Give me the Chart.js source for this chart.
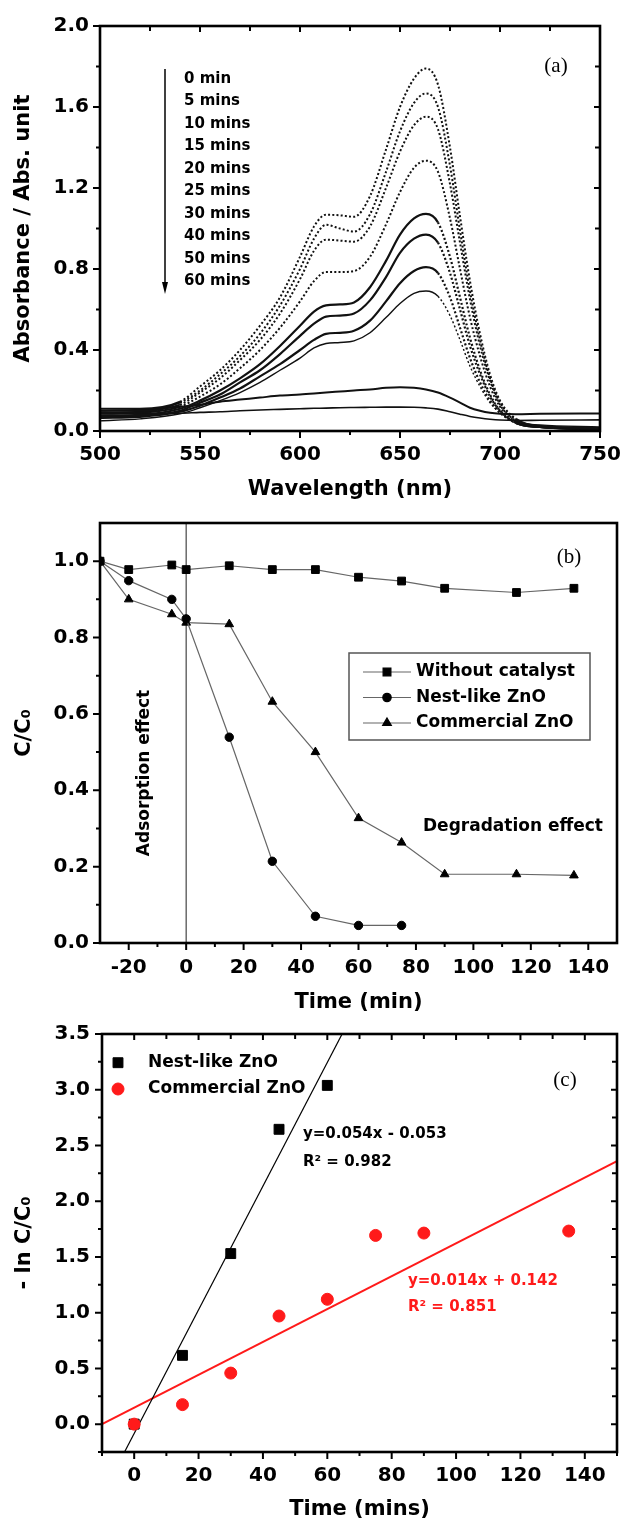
<!DOCTYPE html>
<html>
<head>
<meta charset="utf-8">
<title>ZnO photocatalysis</title>
<script src="https://cdn.jsdelivr.net/npm/chart.js@4.4.1/dist/chart.umd.min.js"></script>
<style>
  html, body { margin: 0; padding: 0; background: #fff; }
  body { position: relative; width: 620px; height: 1525px; overflow: hidden; }
  canvas { position: absolute; left: 0; }
</style>
</head>
<body>
<canvas id="chartA" width="620" height="505" style="top:0"></canvas>
<canvas id="chartB" width="620" height="530" style="top:495px"></canvas>
<canvas id="chartC" width="620" height="515" style="top:1010px"></canvas>
<script>
// (a) absorbance spectra
const wavelengths = [500, 520, 540, 550, 560, 570, 580, 590, 600, 607, 613, 620, 627, 635, 643, 650, 657, 663, 669, 675, 680, 685, 690, 695, 700, 708, 720, 750];
const timeLabels = ['0 min', '5 mins', '10 mins', '15 mins', '20 mins', '25 mins', '30 mins', '40 mins', '50 mins', '60 mins'];
const abs0  = [0.11, 0.11, 0.145, 0.22, 0.30, 0.40, 0.52, 0.66, 0.86, 1.01, 1.068, 1.065, 1.058, 1.16, 1.39, 1.60, 1.74, 1.79, 1.71, 1.40, 1.06, 0.74, 0.48, 0.28, 0.15, 0.06, 0.025, 0.015];
const abs5  = [0.10, 0.10, 0.14, 0.20, 0.28, 0.37, 0.48, 0.62, 0.80, 0.95, 1.018, 1.0, 0.985, 1.07, 1.28, 1.48, 1.62, 1.667, 1.60, 1.31, 0.99, 0.69, 0.45, 0.26, 0.14, 0.055, 0.025, 0.015];
const abs10 = [0.09, 0.095, 0.13, 0.19, 0.26, 0.35, 0.45, 0.58, 0.75, 0.89, 0.945, 0.94, 0.935, 1.01, 1.20, 1.38, 1.51, 1.552, 1.49, 1.22, 0.93, 0.65, 0.42, 0.25, 0.13, 0.05, 0.02, 0.01];
const abs15 = [0.085, 0.09, 0.12, 0.17, 0.23, 0.31, 0.40, 0.51, 0.64, 0.74, 0.785, 0.785, 0.79, 0.86, 1.02, 1.18, 1.30, 1.335, 1.28, 1.05, 0.80, 0.56, 0.37, 0.22, 0.12, 0.045, 0.02, 0.01];
const abs20 = [0.075, 0.08, 0.11, 0.15, 0.20, 0.26, 0.33, 0.42, 0.52, 0.59, 0.62, 0.625, 0.635, 0.71, 0.84, 0.97, 1.05, 1.072, 1.03, 0.86, 0.66, 0.46, 0.30, 0.18, 0.10, 0.04, 0.02, 0.01];
const abs25 = [0.07, 0.075, 0.10, 0.14, 0.18, 0.24, 0.30, 0.38, 0.47, 0.53, 0.565, 0.57, 0.58, 0.645, 0.76, 0.88, 0.95, 0.97, 0.93, 0.78, 0.60, 0.42, 0.28, 0.17, 0.10, 0.04, 0.02, 0.01];
const abs30 = [0.065, 0.07, 0.095, 0.125, 0.165, 0.21, 0.27, 0.33, 0.40, 0.45, 0.48, 0.485, 0.495, 0.545, 0.64, 0.73, 0.79, 0.809, 0.78, 0.66, 0.51, 0.36, 0.24, 0.15, 0.09, 0.04, 0.02, 0.01];
const abs40 = [0.05, 0.06, 0.085, 0.115, 0.15, 0.19, 0.24, 0.30, 0.36, 0.41, 0.432, 0.437, 0.445, 0.485, 0.56, 0.63, 0.68, 0.691, 0.665, 0.57, 0.45, 0.32, 0.22, 0.14, 0.09, 0.045, 0.03, 0.02];
const abs50 = [0.10, 0.105, 0.12, 0.13, 0.145, 0.155, 0.165, 0.175, 0.18, 0.185, 0.19, 0.195, 0.20, 0.205, 0.213, 0.216, 0.213, 0.205, 0.19, 0.165, 0.14, 0.115, 0.10, 0.09, 0.085, 0.083, 0.085, 0.087];
const abs60 = [0.085, 0.085, 0.088, 0.092, 0.095, 0.10, 0.104, 0.107, 0.11, 0.112, 0.113, 0.115, 0.116, 0.117, 0.118, 0.118, 0.117, 0.114, 0.108, 0.095, 0.083, 0.072, 0.064, 0.058, 0.054, 0.052, 0.053, 0.055];
const spectra = [abs0, abs5, abs10, abs15, abs20, abs25, abs30, abs40, abs50, abs60];
const aXTicks = [500, 550, 600, 650, 700, 750];
const aXMinor = [525, 575, 625, 675, 725];
const aYTicks = [0.0, 0.4, 0.8, 1.2, 1.6, 2.0];
const aYMinor = [0.2, 0.6, 1.0, 1.4, 1.8];

// (b) C/C0 vs time
const timeB = [-30, -20, -5, 0, 15, 30, 45, 60, 75, 90, 115, 135];
const withoutCatalyst = [1.0, 0.978, 0.99, 0.978, 0.988, 0.978, 0.978, 0.958, 0.948, 0.929, 0.918, 0.929];
const nestLikeB = [1.0, 0.949, 0.90, 0.849, 0.539, 0.214, 0.07, 0.046, 0.046];
const commercialB = [1.0, 0.90, 0.861, 0.839, 0.835, 0.632, 0.50, 0.327, 0.263, 0.18, 0.18, 0.177];
const bXTicks = [-20, 0, 20, 40, 60, 80, 100, 120, 140];
const bXMinor = [-10, 10, 30, 50, 70, 90, 110, 130];
const bYTicks = [0.0, 0.2, 0.4, 0.6, 0.8, 1.0];
const bYMinor = [0.1, 0.3, 0.5, 0.7, 0.9];

// (c) -ln C/C0 vs time
const timeNest = [0, 15, 30, 45, 60];
const lnNest = [0.0, 0.617, 1.53, 2.645, 3.039];
const timeComm = [0, 15, 30, 45, 60, 75, 90, 135];
const lnComm = [0.0, 0.175, 0.458, 0.97, 1.12, 1.693, 1.714, 1.732];
const fitNestX = [-3.0, 64.6];
const fitNestY = [-0.25, 3.5];
const fitCommX = [-10, 150];
const fitCommY = [0.0, 2.36];
const cXTicks = [0, 20, 40, 60, 80, 100, 120, 140];
const cXMinor = [-10, 10, 30, 50, 70, 90, 110, 130, 150];
const cYTicks = [0.0, 0.5, 1.0, 1.5, 2.0, 2.5, 3.0, 3.5];
const cYMinor = [-0.25, 0.25, 0.75, 1.25, 1.75, 2.25, 2.75, 3.25];

Chart.defaults.font.family = '"DejaVu Sans", sans-serif';
Chart.defaults.color = '#000';
Chart.defaults.animation = false;

const tickFont = { size: 20, weight: 'bold' };
const titleFont = { size: 21, weight: 'bold' };
const pts = (xs, ys) => ys.map((v, i) => ({ x: xs[i], y: v }));

// box + tick marks (outward on left/bottom, inward on top/right when mirrored)
const framePlugin = {
  id: 'frame',
  afterDatasetsDraw(chart, args, o) {
    const { ctx, chartArea: a } = chart;
    const sx = chart.scales.x, sy = chart.scales.y;
    ctx.save();
    ctx.strokeStyle = '#000';
    ctx.lineWidth = 2;
    ctx.beginPath();
    const xt = (vals, len, inLen) => vals.forEach(v => {
      const p = sx.getPixelForValue(v);
      ctx.moveTo(p, a.bottom); ctx.lineTo(p, a.bottom + len);
      if (o.mirror) { ctx.moveTo(p, a.top); ctx.lineTo(p, a.top + inLen); }
    });
    const yt = (vals, len, inLen) => vals.forEach(v => {
      const p = sy.getPixelForValue(v);
      ctx.moveTo(a.left, p); ctx.lineTo(a.left - len, p);
      if (o.mirror) { ctx.moveTo(a.right, p); ctx.lineTo(a.right - inLen, p); }
    });
    xt(o.xMajor, 7, 6); xt(o.xMinor, 4, 5);
    yt(o.yMajor, 7, 6); yt(o.yMinor, 4, 5);
    ctx.stroke();
    ctx.lineWidth = 2.6;
    ctx.strokeRect(a.left, a.top, a.right - a.left, a.bottom - a.top);
    ctx.restore();
  }
};

function axes(xr, yr, xTicks, yTicks, xTitle, yTitle, xH, yW, xPad, yPad, xTitlePad, yTitlePad) {
  return {
    x: {
      type: 'linear', min: xr[0], max: xr[1],
      afterBuildTicks: s => { s.ticks = xTicks.map(v => ({ value: v })); },
      afterFit: s => { s.height = xH; s.paddingLeft = 0; s.paddingRight = 0; },
      grid: { display: false, drawTicks: false }, border: { display: false },
      ticks: { font: tickFont, color: '#000', padding: xPad, maxRotation: 0, autoSkip: false },
      title: { display: true, text: xTitle, font: titleFont, color: '#000', padding: { top: 0, bottom: xTitlePad } }
    },
    y: {
      type: 'linear', min: yr[0], max: yr[1],
      afterBuildTicks: s => { s.ticks = yTicks.map(v => ({ value: v })); },
      afterFit: s => { s.width = yW; s.paddingTop = 0; s.paddingBottom = 0; },
      grid: { display: false, drawTicks: false }, border: { display: false },
      ticks: { font: tickFont, color: '#000', padding: yPad, autoSkip: false, callback: v => v.toFixed(1) },
      title: { display: true, text: yTitle, font: titleFont, color: '#000', padding: { top: yTitlePad, bottom: 0 } }
    }
  };
}

// ---------- (a) ----------
const notesA = {
  id: 'notesA',
  afterDraw(chart) {
    const { ctx } = chart;
    ctx.save();
    ctx.strokeStyle = '#000'; ctx.fillStyle = '#000'; ctx.lineWidth = 1.5;
    ctx.beginPath(); ctx.moveTo(165, 69); ctx.lineTo(165, 286); ctx.stroke();
    ctx.beginPath(); ctx.moveTo(165, 294); ctx.lineTo(162, 282); ctx.lineTo(168, 282); ctx.closePath(); ctx.fill();
    ctx.font = 'bold 15px "DejaVu Sans"'; ctx.textBaseline = 'middle';
    timeLabels.forEach((t, i) => ctx.fillText(t, 184, 79 + i * 22.5));
    ctx.font = '21px "Liberation Serif"';
    ctx.textAlign = 'center';
    ctx.fillText('(a)', 556, 66);
    ctx.restore();
  }
};

const dashFrom = [540, 540, 540, 540, 669, 669, 669, 669, 999, 999];
const widthA = [2, 2, 2, 2, 2.2, 2.2, 2.2, 1.4, 2, 1.6];
new Chart(document.getElementById('chartA'), {
  type: 'line',
  data: {
    datasets: spectra.map((s, k) => ({
      label: timeLabels[k],
      data: pts(wavelengths, s),
      borderColor: '#111', borderWidth: widthA[k],
      pointRadius: 0, fill: false, cubicInterpolationMode: 'monotone',
      segment: { borderDash: c => (c.p0.parsed.x >= dashFrom[k] && c.p0.parsed.x < 708) ? [2, 2.2] : undefined }
    }))
  },
  options: {
    responsive: false, devicePixelRatio: 1,
    layout: { autoPadding: false, padding: { top: 26, right: 20, left: 0, bottom: 0 } },
    scales: axes([500, 750], [0, 2.0], aXTicks, aYTicks, 'Wavelength (nm)', 'Absorbance / Abs. unit', 74, 100, 12, 11, 2.4, 11.4),
    plugins: {
      legend: { display: false }, tooltip: { enabled: false },
      frame: { xMajor: aXTicks, xMinor: aXMinor, yMajor: aYTicks, yMinor: aYMinor, mirror: true }
    }
  },
  plugins: [framePlugin, notesA]
});

// ---------- (b) ----------
const bSeries = [
  { label: 'Without catalyst', y: withoutCatalyst, style: 'rect', r: 5.5 },
  { label: 'Nest-like ZnO', y: nestLikeB, style: 'circle', r: 4.2 },
  { label: 'Commercial ZnO', y: commercialB, style: 'triangle', r: 5 }
];
const notesB = {
  id: 'notesB',
  beforeDatasetsDraw(chart) {
    const { ctx, chartArea: a } = chart;
    const p = chart.scales.x.getPixelForValue(0);
    ctx.save();
    ctx.strokeStyle = '#444'; ctx.lineWidth = 1.2;
    ctx.beginPath(); ctx.moveTo(p, a.top); ctx.lineTo(p, a.bottom); ctx.stroke();
    ctx.restore();
  },
  afterDraw(chart) {
    const { ctx } = chart;
    ctx.save();
    ctx.fillStyle = '#000';
    ctx.font = 'bold 17px "DejaVu Sans"';
    ctx.textBaseline = 'middle';
    ctx.fillText('Degradation effect', 423, 332);
    ctx.save();
    ctx.translate(145, 278); ctx.rotate(-Math.PI / 2);
    ctx.textAlign = 'center';
    ctx.fillText('Adsorption effect', 0, 0);
    ctx.restore();
    // legend box
    ctx.strokeStyle = '#555'; ctx.lineWidth = 1.5;
    ctx.strokeRect(349, 158, 241, 87);
    bSeries.forEach((s, i) => {
      const y = 177 + i * 25.5;
      ctx.strokeStyle = '#666'; ctx.lineWidth = 1.2;
      ctx.beginPath(); ctx.moveTo(363, y); ctx.lineTo(411, y); ctx.stroke();
      ctx.fillStyle = '#000'; ctx.strokeStyle = '#000';
      Chart.helpers.drawPoint(ctx, { pointStyle: s.style, radius: s.r, rotation: 0, borderWidth: 1 }, 387, y);
      ctx.fillText(s.label, 416, y);
    });
    ctx.font = '21px "Liberation Serif"';
    ctx.textAlign = 'center';
    ctx.fillText('(b)', 569, 62);
    ctx.restore();
  }
};
new Chart(document.getElementById('chartB'), {
  type: 'line',
  data: {
    datasets: bSeries.map(s => ({
      label: s.label,
      data: pts(timeB, s.y),
      borderColor: '#666', borderWidth: 1.2,
      pointStyle: s.style, pointRadius: s.r,
      pointBackgroundColor: '#000', pointBorderColor: '#000', pointBorderWidth: 1,
      tension: 0, fill: false
    }))
  },
  options: {
    responsive: false, devicePixelRatio: 1,
    layout: { autoPadding: false, padding: { top: 28, right: 3, left: 0, bottom: 0 } },
    scales: axes([-30, 150], [0, 1.1], bXTicks, bYTicks, 'Time (min)', 'C/C\u2080', 82, 100, 13, 11, 10, 12.4),
    plugins: {
      legend: { display: false }, tooltip: { enabled: false },
      frame: { xMajor: bXTicks, xMinor: bXMinor, yMajor: bYTicks, yMinor: bYMinor, mirror: false }
    }
  },
  plugins: [framePlugin, notesB]
});

// ---------- (c) ----------
const red = '#ff1a1a';
const notesC = {
  id: 'notesC',
  afterDraw(chart) {
    const { ctx } = chart;
    ctx.save();
    ctx.textBaseline = 'middle';
    ctx.font = 'bold 17px "DejaVu Sans"';
    ctx.fillStyle = '#000'; ctx.strokeStyle = '#000';
    Chart.helpers.drawPoint(ctx, { pointStyle: 'rect', radius: 7, rotation: 0, borderWidth: 1 }, 118, 52.7);
    ctx.fillText('Nest-like ZnO', 148, 52.7);
    ctx.fillStyle = red; ctx.strokeStyle = red;
    Chart.helpers.drawPoint(ctx, { pointStyle: 'circle', radius: 6, rotation: 0, borderWidth: 1 }, 118, 79);
    ctx.fillStyle = '#000';
    ctx.fillText('Commercial ZnO', 148, 79);
    ctx.font = 'bold 15px "DejaVu Sans"';
    ctx.fillText('y=0.054x - 0.053', 303, 124.6);
    ctx.fillText('R\u00b2 = 0.982', 303, 152);
    ctx.fillStyle = red;
    ctx.fillText('y=0.014x + 0.142', 408, 271);
    ctx.fillText('R\u00b2 = 0.851', 408, 297);
    ctx.fillStyle = '#000';
    ctx.font = '21px "Liberation Serif"';
    ctx.textAlign = 'center';
    ctx.fillText('(c)', 565, 70);
    ctx.restore();
  }
};
new Chart(document.getElementById('chartC'), {
  type: 'scatter',
  data: {
    datasets: [
      { label: 'Commercial ZnO', data: pts(timeComm, lnComm), pointStyle: 'circle', pointRadius: 6,
        pointBackgroundColor: red, pointBorderColor: red, showLine: false, order: 0 },
      { label: 'Nest-like ZnO', data: pts(timeNest, lnNest), pointStyle: 'rect', pointRadius: 7,
        pointBackgroundColor: '#000', pointBorderColor: '#000', showLine: false, order: 1 },
      { label: 'fit nest', data: pts(fitNestX, fitNestY), showLine: true, pointRadius: 0,
        borderColor: '#000', borderWidth: 1.2, order: 2 },
      { label: 'fit commercial', data: pts(fitCommX, fitCommY), showLine: true, pointRadius: 0,
        borderColor: red, borderWidth: 2, order: 3 }
    ]
  },
  options: {
    responsive: false, devicePixelRatio: 1,
    layout: { autoPadding: false, padding: { top: 24, right: 3, left: 0, bottom: 0 } },
    scales: axes([-10, 150], [-0.25, 3.5], cXTicks, cYTicks, 'Time (mins)', '- ln C/C\u2080', 73, 102, 12, 12, 3, 12.4),
    plugins: {
      legend: { display: false }, tooltip: { enabled: false },
      frame: { xMajor: cXTicks, xMinor: cXMinor, yMajor: cYTicks, yMinor: cYMinor, mirror: true }
    }
  },
  plugins: [framePlugin, notesC]
});
</script>
</body>
</html>
